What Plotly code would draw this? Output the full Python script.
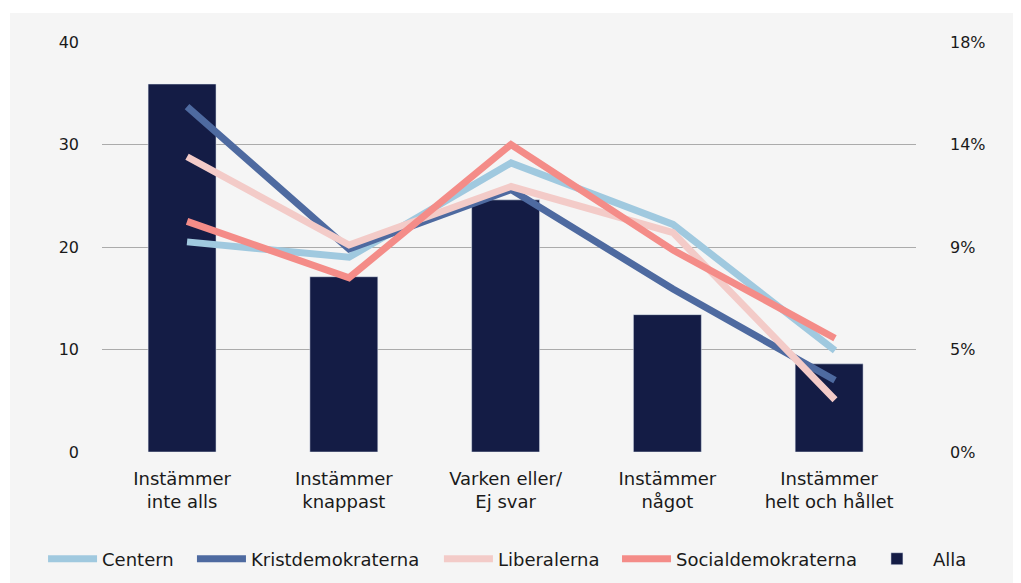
import plotly.graph_objects as go

categories = ["Instämmer<br>inte alls", "Instämmer<br>knappast", "Varken eller/<br>Ej svar",
              "Instämmer<br>något", "Instämmer<br>helt och hållet"]
alla = [35.9, 17.1, 24.6, 13.4, 8.6]
centern = [20.5, 19.0, 28.2, 22.2, 9.9]
kristdemokraterna = [33.7, 19.8, 25.6, 15.9, 7.0]
liberalerna = [28.8, 20.2, 25.9, 21.4, 5.1]
socialdemokraterna = [22.5, 17.0, 30.0, 19.7, 11.1]

left_ticks = [0, 10, 20, 30, 40]
right_ticktext = ["0%", "5%", "9%", "14%", "18%"]

BG = "#f5f5f5"
GRID = "#ababab"
TICKFONT = dict(family="DejaVu Sans", size=16, color="#1a1a1a")
LABELFONT = dict(family="DejaVu Sans", size=18, color="#1a1a1a")

fig = go.Figure()

fig.add_trace(go.Bar(x=categories, y=alla, name="Alla", marker_color="#141c45",
                     xaxis="x", yaxis="y", legend="legend5"))

series = [
    ("Centern", centern, "#a0c9df", "legend"),
    ("Kristdemokraterna", kristdemokraterna, "#4e6aa0", "legend2"),
    ("Liberalerna", liberalerna, "#f3cbc8", "legend3"),
    ("Socialdemokraterna", socialdemokraterna, "#f48c88", "legend4"),
]
for name, vals, col, lg in series:
    fig.add_trace(go.Scatter(x=categories, y=vals, name=name, mode="lines",
                             line=dict(color=col, width=7),
                             xaxis="x2", yaxis="y2", legend=lg))


def legend_at(x, itemwidth=49):
    return dict(orientation="h", xref="container", x=x, xanchor="left",
                yref="container", y=0.0417, yanchor="middle",
                font=LABELFONT, bgcolor="rgba(0,0,0,0)", itemwidth=itemwidth)


fig.update_layout(
    width=1013, height=575,
    paper_bgcolor="white", plot_bgcolor=BG,
    margin=dict(l=94, r=105, t=34, b=131, autoexpand=False),
    bargap=0.58,
    showlegend=True,
    legend=legend_at(0.0346),
    legend2=legend_at(0.1816),
    legend3=legend_at(0.4254),
    legend4=legend_at(0.6012),
    legend5=legend_at(0.842, itemwidth=62),
    xaxis=dict(range=[-0.495, 4.537], showgrid=False, zeroline=False, showline=False,
               ticks="", tickfont=LABELFONT, ticklabelstandoff=14),
    xaxis2=dict(range=[-0.525, 4.50], overlaying="x", visible=False),
    yaxis=dict(range=[0, 40], tickvals=left_ticks, showgrid=True, gridcolor=GRID,
               gridwidth=1, zeroline=False, showline=False, ticks="",
               tickfont=TICKFONT, ticklabelstandoff=22),
    yaxis2=dict(range=[0, 40], overlaying="y", side="right", tickvals=left_ticks,
                ticktext=right_ticktext, showgrid=False, zeroline=False,
                showline=False, ticks="", tickfont=TICKFONT, ticklabelstandoff=33),
    shapes=[dict(type="rect", xref="paper", yref="paper", x0=-0.1130, x1=1.3,
                 y0=-0.5, y1=1.0707, fillcolor=BG, line_width=0, layer="below")],
)

fig.write_html("out.html")
